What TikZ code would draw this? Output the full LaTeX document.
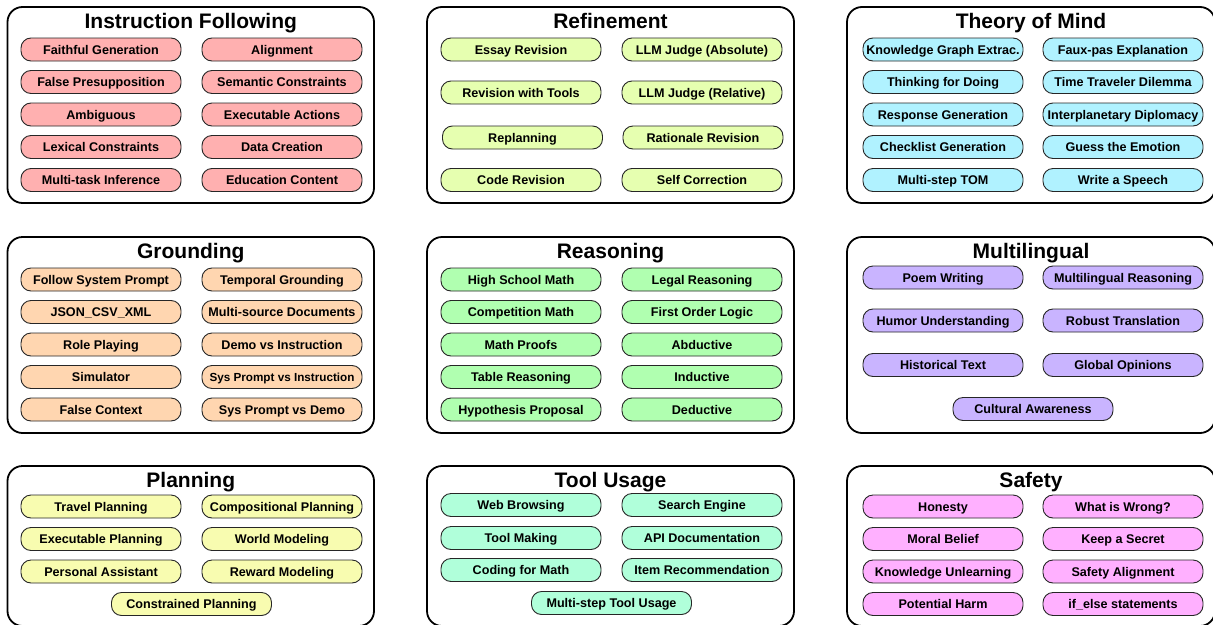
\documentclass[tikz,border=0pt]{standalone}
\usepackage{fontspec}
\setmainfont{Liberation Sans}
\definecolor{cif}{HTML}{FFB0B0}
\definecolor{cref}{HTML}{E6FFB0}
\definecolor{ctom}{HTML}{B0F2FF}
\definecolor{cgr}{HTML}{FFD6B0}
\definecolor{crea}{HTML}{B0FFB0}
\definecolor{cml}{HTML}{C9B4FF}
\definecolor{cpl}{HTML}{F8FCB0}
\definecolor{ctool}{HTML}{B0FFDA}
\definecolor{csaf}{HTML}{FFB0FF}
\newcommand\pl[5]{\node[pill, fill=#5] (#1) at (#2,#3) {#4};}
\begin{document}
\begin{tikzpicture}[x=1pt,y=-1pt,
 grp/.style={draw=black, line width=1.8pt, rounded corners=15pt, inner sep=0pt, fill=white},
 ttl/.style={anchor=base, font=\fontsize{21}{24}\selectfont\bfseries, inner sep=0pt},
 pill/.style={draw=black!85, line width=0.9pt, rounded corners=10pt, minimum width=160pt, minimum height=23pt, inner sep=0pt, font=\fontsize{12.6}{14}\selectfont\bfseries, text height=9pt, text depth=0pt}]
\useasboundingbox (0,0) rectangle (1213,624);
% group boxes
\node[grp, minimum width=366.5pt, minimum height=196pt] (gif) at (190.75,105) {};
\node[grp, minimum width=367pt, minimum height=196pt] (gref) at (610.5,105) {};
\node[grp, minimum width=368pt, minimum height=196pt] (gtom) at (1031,105) {};
\node[grp, minimum width=366.5pt, minimum height=196pt] (ggr) at (190.75,335) {};
\node[grp, minimum width=367pt, minimum height=196pt] (grea) at (610.5,335) {};
\node[grp, minimum width=368pt, minimum height=196pt] (gml) at (1031,335) {};
\node[grp, minimum width=366.5pt, minimum height=160pt] (gpl) at (190.75,546) {};
\node[grp, minimum width=367pt, minimum height=160pt] (gtool) at (610.5,546) {};
\node[grp, minimum width=368pt, minimum height=160pt] (gsaf) at (1031,546) {};
% titles
\node[ttl] (tif) at (190.75,28) {Instruction Following};
\node[ttl] (tref) at (610.5,28) {Refinement};
\node[ttl] (ttom) at (1031,28) {Theory of Mind};
\node[ttl] (tgr) at (190.75,258) {Grounding};
\node[ttl] (trea) at (610.5,258) {Reasoning};
\node[ttl] (tml) at (1031,258) {Multilingual};
\node[ttl] (tpl) at (190.75,487) {Planning};
\node[ttl] (ttool) at (610.5,487) {Tool Usage};
\node[ttl] (tsaf) at (1031,487) {Safety};
% Instruction Following
\pl{if1}{101}{49.5}{Faithful Generation}{cif}
\pl{if2}{282}{49.5}{Alignment}{cif}
\pl{if3}{101}{82}{False Presupposition}{cif}
\pl{if4}{282}{82}{Semantic Constraints}{cif}
\pl{if5}{101}{114.5}{Ambiguous}{cif}
\pl{if6}{282}{114.5}{Executable Actions}{cif}
\pl{if7}{101}{147}{Lexical Constraints}{cif}
\pl{if8}{282}{147}{Data Creation}{cif}
\pl{if9}{101}{180}{Multi-task Inference}{cif}
\pl{if10}{282}{180}{Education Content}{cif}
% Refinement
\pl{re1}{521}{49.5}{Essay Revision}{cref}
\pl{re2}{702}{49.5}{LLM Judge (Absolute)}{cref}
\pl{re3}{521}{92.5}{Revision with Tools}{cref}
\pl{re4}{702}{92.5}{LLM Judge (Relative)}{cref}
\pl{re5}{522.5}{137.5}{Replanning}{cref}
\pl{re6}{703}{137.5}{Rationale Revision}{cref}
\pl{re7}{521}{180}{Code Revision}{cref}
\pl{re8}{702}{180}{Self Correction}{cref}
% Theory of Mind
\pl{tm1}{943}{49.5}{Knowledge Graph Extrac.}{ctom}
\pl{tm2}{1123}{49.5}{Faux-pas Explanation}{ctom}
\pl{tm3}{943}{82}{Thinking for Doing}{ctom}
\pl{tm4}{1123}{82}{Time Traveler Dilemma}{ctom}
\pl{tm5}{943}{114.5}{Response Generation}{ctom}
\pl{tm6}{1123}{114.5}{Interplanetary Diplomacy}{ctom}
\pl{tm7}{943}{147}{Checklist Generation}{ctom}
\pl{tm8}{1123}{147}{Guess the Emotion}{ctom}
\pl{tm9}{943}{180}{Multi-step TOM}{ctom}
\pl{tm10}{1123}{180}{Write a Speech}{ctom}
% Grounding
\pl{gr1}{101}{279.5}{Follow System Prompt}{cgr}
\pl{gr2}{282}{279.5}{Temporal Grounding}{cgr}
\pl{gr3}{101}{312}{JSON\_CSV\_XML}{cgr}
\pl{gr4}{282}{312}{Multi-source Documents}{cgr}
\pl{gr5}{101}{344.5}{Role Playing}{cgr}
\pl{gr6}{282}{344.5}{Demo vs Instruction}{cgr}
\pl{gr7}{101}{377}{Simulator}{cgr}
\node[pill, fill=cgr, font=\fontsize{11.7}{13}\selectfont\bfseries] (gr8) at (282,377) {Sys Prompt vs Instruction};
\pl{gr9}{101}{409.5}{False Context}{cgr}
\pl{gr10}{282}{409.5}{Sys Prompt vs Demo}{cgr}
% Reasoning
\pl{rs1}{521}{279.5}{High School Math}{crea}
\pl{rs2}{702}{279.5}{Legal Reasoning}{crea}
\pl{rs3}{521}{312}{Competition Math}{crea}
\pl{rs4}{702}{312}{First Order Logic}{crea}
\pl{rs5}{521}{344.5}{Math Proofs}{crea}
\pl{rs6}{702}{344.5}{Abductive}{crea}
\pl{rs7}{521}{377}{Table Reasoning}{crea}
\pl{rs8}{702}{377}{Inductive}{crea}
\pl{rs9}{521}{409.5}{Hypothesis Proposal}{crea}
\pl{rs10}{702}{409.5}{Deductive}{crea}
% Multilingual
\pl{ml1}{943}{277.5}{Poem Writing}{cml}
\pl{ml2}{1123}{277.5}{Multilingual Reasoning}{cml}
\pl{ml3}{943}{320.5}{Humor Understanding}{cml}
\pl{ml4}{1123}{320.5}{Robust Translation}{cml}
\pl{ml5}{943}{365}{Historical Text}{cml}
\pl{ml6}{1123}{365}{Global Opinions}{cml}
\pl{ml7}{1033}{409}{Cultural Awareness}{cml}
% Planning
\pl{pl1}{101}{506.5}{Travel Planning}{cpl}
\pl{pl2}{282}{506.5}{Compositional Planning}{cpl}
\pl{pl3}{101}{539}{Executable Planning}{cpl}
\pl{pl4}{282}{539}{World Modeling}{cpl}
\pl{pl5}{101}{571.5}{Personal Assistant}{cpl}
\pl{pl6}{282}{571.5}{Reward Modeling}{cpl}
\pl{pl7}{191.5}{604}{Constrained Planning}{cpl}
% Tool Usage
\pl{tu1}{521}{505}{Web Browsing}{ctool}
\pl{tu2}{702}{505}{Search Engine}{ctool}
\pl{tu3}{521}{538}{Tool Making}{ctool}
\pl{tu4}{702}{538}{API Documentation}{ctool}
\pl{tu5}{521}{570}{Coding for Math}{ctool}
\pl{tu6}{702}{570}{Item Recommendation}{ctool}
\pl{tu7}{611.5}{603}{Multi-step Tool Usage}{ctool}
% Safety
\pl{sa1}{943}{506.5}{Honesty}{csaf}
\pl{sa2}{1123}{506.5}{What is Wrong?}{csaf}
\pl{sa3}{943}{539}{Moral Belief}{csaf}
\pl{sa4}{1123}{539}{Keep a Secret}{csaf}
\pl{sa5}{943}{571.5}{Knowledge Unlearning}{csaf}
\pl{sa6}{1123}{571.5}{Safety Alignment}{csaf}
\pl{sa7}{943}{604}{Potential Harm}{csaf}
\pl{sa8}{1123}{604}{if\_else statements}{csaf}
\end{tikzpicture}
\end{document}
